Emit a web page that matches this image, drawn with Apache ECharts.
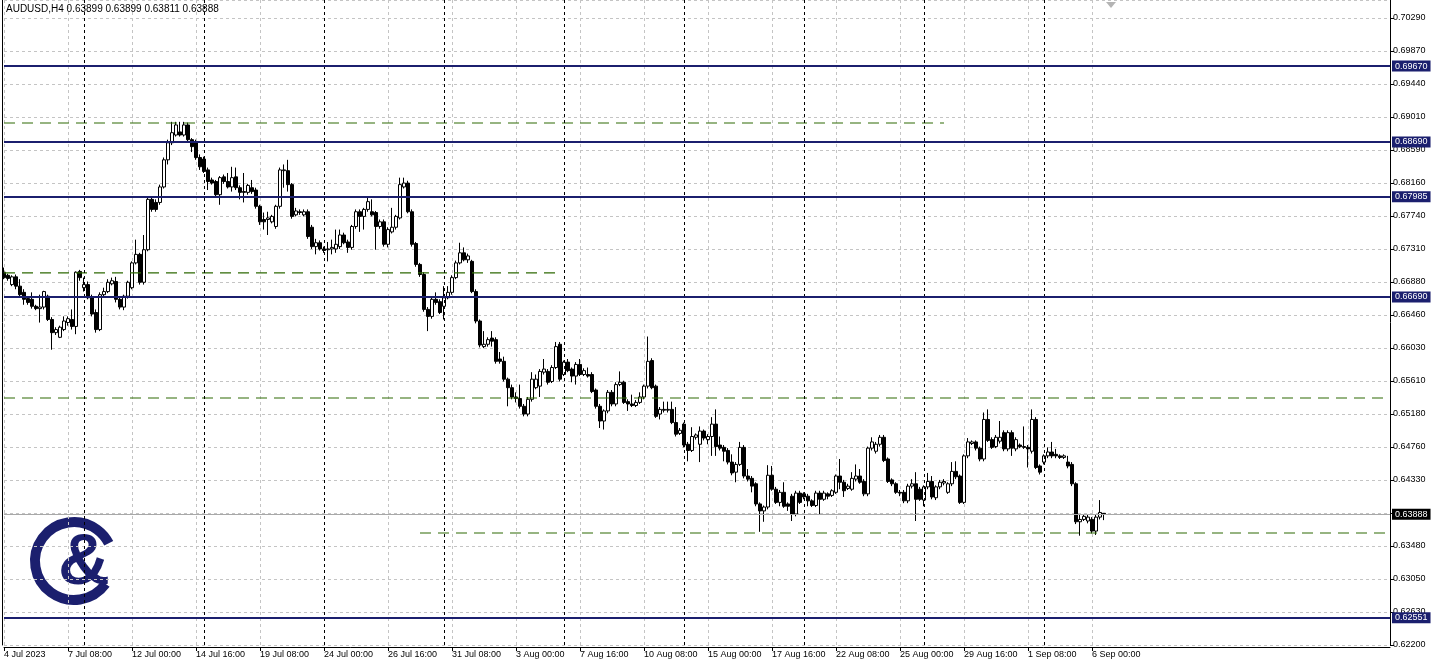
<!DOCTYPE html>
<html><head><meta charset="utf-8">
<script src="https://cdn.jsdelivr.net/npm/echarts@6/dist/echarts.min.js"></script>
<style>html,body{margin:0;padding:0;background:#fff;overflow:hidden}#c{width:1436px;height:667px}</style>
</head><body><div id="c"></div>
<script>
const symbol = 'AUDUSD';
const timeframe = 'H4';

const open = [
0.6701,0.6697,0.6685,0.6695,0.6683,0.6675,0.6667,0.6666,0.6657,0.6654,
0.6656,0.6670,0.6640,0.6623,0.6617,0.6627,0.6636,0.6640,0.6631,0.6702,
0.6681,0.6685,0.6668,0.6649,0.6627,0.6672,0.6676,0.6686,0.6689,0.6666,
0.6656,0.6670,0.6681,0.6713,0.6724,0.6688,0.6730,0.6795,0.6791,0.6791,
0.6811,0.6846,0.6868,0.6878,0.6882,0.6878,0.6891,0.6872,0.6868,0.6849,
0.6847,0.6833,0.6820,0.6818,0.6801,0.6824,0.6818,0.6811,0.6824,0.6810,
0.6805,0.6804,0.6810,0.6807,0.6786,0.6769,0.6769,0.6766,0.6760,0.6786,
0.6832,0.6832,0.6814,0.6775,0.6779,0.6775,0.6779,0.6759,0.6734,0.6739,
0.6731,0.6730,0.6731,0.6731,0.6734,0.6749,0.6740,0.6733,0.6760,0.6779,
0.6773,0.6782,0.6779,0.6778,0.6760,0.6766,0.6737,0.6753,0.6759,0.6771,
0.6811,0.6816,0.6779,0.6738,0.6711,0.6698,0.6653,0.6644,0.6666,0.6663,
0.6657,0.6668,0.6675,0.6694,0.6713,0.6726,0.6717,0.6715,0.6676,0.6638,
0.6605,0.6608,0.6616,0.6614,0.6589,0.6586,0.6563,0.6552,0.6540,0.6538,
0.6528,0.6518,0.6537,0.6552,0.6554,0.6572,0.6573,0.6560,0.6578,0.6608,
0.6569,0.6585,0.6576,0.6567,0.6582,0.6569,0.6569,0.6569,0.6549,0.6528,
0.6509,0.6522,0.6546,0.6531,0.6556,0.6559,0.6534,0.6531,0.6529,0.6533,
0.6540,0.6554,0.6587,0.6554,0.6518,0.6524,0.6523,0.6524,0.6507,0.6493,
0.6505,0.6479,0.6471,0.6488,0.6479,0.6496,0.6485,0.6489,0.6505,0.6478,
0.6475,0.6471,0.6456,0.6443,0.6453,0.6475,0.6438,0.6435,0.6428,0.6402,
0.6393,0.6398,0.6439,0.6421,0.6404,0.6417,0.6402,0.6412,0.6389,0.6416,
0.6415,0.6412,0.6406,0.6400,0.6416,0.6408,0.6415,0.6413,0.6417,0.6438,
0.6430,0.6422,0.6421,0.6434,0.6438,0.6431,0.6415,0.6474,0.6470,0.6479,
0.6488,0.6460,0.6433,0.6428,0.6417,0.6417,0.6406,0.6425,0.6428,0.6421,
0.6407,0.6424,0.6431,0.6410,0.6424,0.6429,0.6417,0.6428,0.6444,0.6438,
0.6404,0.6464,0.6480,0.6482,0.6474,0.6460,0.6511,0.6485,0.6476,0.6483,
0.6494,0.6473,0.6494,0.6473,0.6478,0.6476,0.6475,0.6470,0.6511,0.6451,
0.6456,0.6464,0.6469,0.6466,0.6464,0.6462,0.6456,0.6453,0.6428,0.6379,
0.6382,0.6380,0.6382,0.6367,0.6385,0.63899];

const high = [
0.6707,0.6699,0.6697,0.6698,0.6692,0.6679,0.6670,0.6675,0.6659,0.6672,
0.6677,0.6672,0.6643,0.6630,0.6632,0.6644,0.6644,0.6653,0.6702,0.6704,
0.6694,0.6689,0.6672,0.6653,0.6675,0.6681,0.6692,0.6694,0.6695,0.6668,
0.6672,0.6690,0.6715,0.6743,0.6726,0.6749,0.6797,0.6797,0.6795,0.6814,
0.6849,0.6872,0.6895,0.6895,0.6895,0.6895,0.6894,0.6874,0.6872,0.6853,
0.6850,0.6836,0.6823,0.6820,0.6825,0.6827,0.6829,0.6837,0.6836,0.6813,
0.6829,0.6815,0.6820,0.6810,0.6788,0.6778,0.6779,0.6775,0.6788,0.6836,
0.6840,0.6846,0.6816,0.6784,0.6782,0.6782,0.6782,0.6762,0.6744,0.6742,
0.6734,0.6740,0.6743,0.6756,0.6756,0.6752,0.6743,0.6762,0.6782,0.6782,
0.6784,0.6797,0.6795,0.6780,0.6769,0.6769,0.6759,0.6784,0.6775,0.6823,
0.6823,0.6819,0.6782,0.6740,0.6713,0.6701,0.6656,0.6668,0.6675,0.6666,
0.6683,0.6683,0.6697,0.6716,0.6739,0.6733,0.6725,0.6717,0.6679,0.6640,
0.6625,0.6617,0.6625,0.6617,0.6598,0.6592,0.6565,0.6556,0.6546,0.6556,
0.6531,0.6540,0.6572,0.6569,0.6576,0.6589,0.6576,0.6581,0.6611,0.6611,
0.6587,0.6589,0.6578,0.6585,0.6589,0.6577,0.6578,0.6572,0.6551,0.6531,
0.6524,0.6549,0.6549,0.6559,0.6573,0.6561,0.6537,0.6543,0.6536,0.6546,
0.6556,0.6618,0.6590,0.6556,0.6527,0.6534,0.6534,0.6534,0.6527,0.6500,
0.6507,0.6482,0.6501,0.6493,0.6502,0.6498,0.6492,0.6514,0.6524,0.6489,
0.6478,0.6474,0.6466,0.6456,0.6482,0.6478,0.6447,0.6438,0.6430,0.6404,
0.6400,0.6452,0.6451,0.6424,0.6420,0.6430,0.6404,0.6415,0.6419,0.6419,
0.6417,0.6415,0.6408,0.6419,0.6419,0.6419,0.6417,0.6421,0.6440,0.6460,
0.6433,0.6428,0.6443,0.6453,0.6447,0.6434,0.6476,0.6488,0.6482,0.6491,
0.6491,0.6462,0.6435,0.6430,0.6420,0.6420,0.6428,0.6434,0.6443,0.6424,
0.6426,0.6442,0.6438,0.6426,0.6433,0.6434,0.6430,0.6456,0.6457,0.6440,
0.6466,0.6487,0.6484,0.6484,0.6476,0.6520,0.6524,0.6488,0.6491,0.6509,
0.6497,0.6497,0.6497,0.6488,0.6480,0.6502,0.6478,0.6524,0.6514,0.6453,
0.6466,0.6475,0.6482,0.6473,0.6466,0.6466,0.6464,0.6456,0.6430,0.6389,
0.6389,0.6388,0.6385,0.6388,0.6407,0.63899];

const low = [
0.6692,0.6690,0.6683,0.6679,0.6670,0.6659,0.6659,0.6654,0.6652,0.6636,
0.6653,0.6638,0.6601,0.6620,0.6616,0.6625,0.6632,0.6627,0.6621,0.6690,
0.6676,0.6666,0.6644,0.6623,0.6625,0.6670,0.6674,0.6684,0.6662,0.6653,
0.6652,0.6667,0.6679,0.6711,0.6685,0.6685,0.6728,0.6779,0.6779,0.6788,
0.6809,0.6840,0.6865,0.6876,0.6876,0.6876,0.6869,0.6856,0.6846,0.6833,
0.6829,0.6807,0.6814,0.6798,0.6788,0.6815,0.6809,0.6805,0.6807,0.6795,
0.6791,0.6801,0.6802,0.6783,0.6762,0.6756,0.6749,0.6764,0.6757,0.6783,
0.6810,0.6805,0.6770,0.6773,0.6775,0.6773,0.6744,0.6731,0.6724,0.6729,
0.6726,0.6715,0.6724,0.6726,0.6731,0.6737,0.6726,0.6730,0.6757,0.6753,
0.6756,0.6779,0.6773,0.6730,0.6757,0.6734,0.6733,0.6751,0.6756,0.6769,
0.6809,0.6777,0.6734,0.6708,0.6695,0.6650,0.6625,0.6641,0.6659,0.6647,
0.6640,0.6666,0.6672,0.6692,0.6711,0.6715,0.6713,0.6674,0.6635,0.6604,
0.6603,0.6605,0.6605,0.6583,0.6583,0.6560,0.6528,0.6537,0.6533,0.6525,
0.6515,0.6515,0.6534,0.6550,0.6540,0.6569,0.6556,0.6558,0.6576,0.6560,
0.6567,0.6572,0.6559,0.6556,0.6567,0.6567,0.6565,0.6545,0.6525,0.6500,
0.6498,0.6519,0.6528,0.6528,0.6554,0.6531,0.6522,0.6527,0.6527,0.6531,
0.6537,0.6551,0.6550,0.6513,0.6511,0.6520,0.6520,0.6505,0.6489,0.6491,
0.6475,0.6457,0.6469,0.6485,0.6456,0.6484,0.6479,0.6464,0.6464,0.6471,
0.6457,0.6453,0.6439,0.6430,0.6451,0.6435,0.6431,0.6417,0.6399,0.6366,
0.6379,0.6395,0.6419,0.6402,0.6399,0.6397,0.6393,0.6380,0.6386,0.6402,
0.6408,0.6399,0.6398,0.6398,0.6389,0.6406,0.6408,0.6411,0.6415,0.6421,
0.6411,0.6420,0.6419,0.6431,0.6428,0.6412,0.6412,0.6471,0.6467,0.6476,
0.6456,0.6429,0.6425,0.6415,0.6412,0.6403,0.6403,0.6422,0.6380,0.6406,
0.6399,0.6421,0.6408,0.6407,0.6421,0.6426,0.6415,0.6425,0.6434,0.6402,
0.6402,0.6461,0.6478,0.6471,0.6457,0.6457,0.6482,0.6473,0.6474,0.6480,
0.6470,0.6470,0.6464,0.6470,0.6474,0.6473,0.6449,0.6467,0.6447,0.6440,
0.6453,0.6461,0.6461,0.6461,0.6460,0.6460,0.6448,0.6425,0.6376,0.6361,
0.6380,0.6377,0.6364,0.6362,0.6382,0.63811];

const close = [
0.6694,0.6693,0.6695,0.6683,0.6672,0.6666,0.6662,0.6657,0.6654,0.6656,
0.6676,0.6640,0.6623,0.6627,0.6630,0.6638,0.6641,0.6631,0.6701,0.6694,
0.6685,0.6668,0.6647,0.6627,0.6672,0.6676,0.6688,0.6690,0.6666,0.6656,
0.6670,0.6688,0.6713,0.6724,0.6688,0.6730,0.6795,0.6782,0.6782,0.6811,
0.6846,0.6868,0.6881,0.6891,0.6878,0.6891,0.6872,0.6863,0.6849,0.6837,
0.6831,0.6818,0.6816,0.6801,0.6823,0.6818,0.6811,0.6823,0.6810,0.6804,
0.6804,0.6813,0.6805,0.6786,0.6766,0.6766,0.6771,0.6773,0.6786,0.6833,
0.6833,0.6814,0.6773,0.6780,0.6778,0.6779,0.6747,0.6734,0.6739,0.6731,
0.6729,0.6731,0.6733,0.6737,0.6749,0.6739,0.6733,0.6760,0.6779,0.6773,
0.6782,0.6792,0.6775,0.6760,0.6766,0.6737,0.6756,0.6759,0.6773,0.6814,
0.6816,0.6779,0.6737,0.6711,0.6698,0.6653,0.6644,0.6666,0.6662,0.6649,
0.6668,0.6675,0.6694,0.6713,0.6726,0.6717,0.6722,0.6676,0.6638,0.6607,
0.6608,0.6614,0.6612,0.6586,0.6586,0.6563,0.6552,0.6540,0.6538,0.6528,
0.6518,0.6537,0.6563,0.6563,0.6573,0.6576,0.6559,0.6578,0.6605,0.6563,
0.6585,0.6574,0.6567,0.6582,0.6569,0.6574,0.6567,0.6547,0.6528,0.6509,
0.6522,0.6546,0.6531,0.6556,0.6559,0.6533,0.6531,0.6529,0.6533,0.6540,
0.6554,0.6586,0.6552,0.6515,0.6524,0.6523,0.6524,0.6507,0.6492,0.6497,
0.6478,0.6471,0.6489,0.6491,0.6496,0.6487,0.6489,0.6505,0.6476,0.6474,
0.6470,0.6456,0.6442,0.6453,0.6475,0.6438,0.6434,0.6425,0.6402,0.6393,
0.6398,0.6439,0.6421,0.6404,0.6417,0.6399,0.6399,0.6389,0.6416,0.6404,
0.6411,0.6406,0.6400,0.6416,0.6408,0.6416,0.6412,0.6419,0.6438,0.6430,
0.6419,0.6425,0.6435,0.6438,0.6430,0.6415,0.6474,0.6482,0.6479,0.6488,
0.6458,0.6431,0.6428,0.6417,0.6416,0.6406,0.6425,0.6428,0.6408,0.6408,
0.6424,0.6431,0.6411,0.6424,0.6430,0.6431,0.6428,0.6444,0.6437,0.6404,
0.6464,0.6482,0.6482,0.6474,0.6460,0.6511,0.6484,0.6475,0.6488,0.6488,
0.6473,0.6494,0.6474,0.6485,0.6476,0.6475,0.6473,0.6511,0.6449,0.6443,
0.6464,0.6469,0.6464,0.6464,0.6462,0.6464,0.6451,0.6428,0.6379,0.6382,
0.6386,0.6385,0.6367,0.6385,0.6391,0.63888];

// x-axis tick labels, one every 16 bars starting at bar 0
const xTickLabels = ['4 Jul 2023','7 Jul 08:00','12 Jul 00:00','14 Jul 16:00','19 Jul 08:00','24 Jul 00:00',
  '26 Jul 16:00','31 Jul 08:00','3 Aug 00:00','7 Aug 16:00','10 Aug 08:00','15 Aug 00:00','17 Aug 16:00',
  '22 Aug 08:00','25 Aug 00:00','29 Aug 16:00','1 Sep 08:00','6 Sep 00:00'];
const xLabelEvery = 16;
// price scale tick labels, bottom to top
const yTickLabels = ['0.62200','0.62630','0.63050','0.63480','0.63900','0.64330','0.64760','0.65180','0.65610',
  '0.66030','0.66460','0.66880','0.67310','0.67740','0.68160','0.68590','0.69010','0.69440','0.69870','0.70290'];
const yTop = 0.70522;          // price at the top edge of the window
// weekly period separators (bar index of Monday 00:00)
const weekStarts = [20, 50, 80, 110, 140, 170, 200, 230, 260];
// horizontal support/resistance levels
const levels = [0.69670, 0.68690, 0.67985, 0.66690, 0.62551];
// dashed trend levels: price, first bar, last bar
const dashedPrices = [0.68935, 0.67000, 0.65387, 0.63645];
const dashedFrom   = [0, 0, 0, 104];
const dashedTo     = [235, 138, 346.5, 346.5];
const totalSlots = 346.5;

const NAVY = '#1b1f6e';
const GREEN = '#2f6a05';
const FONT = '"Liberation Sans", Arial, sans-serif';

const n = close.length;
const candles = close.map((c, i) => [i, open[i], c, low[i], high[i]]);
const yMin = Number(yTickLabels[0]);
const yStep = (Number(yTickLabels[yTickLabels.length - 1]) - yMin) / (yTickLabels.length - 1);

const header = symbol + ',' + timeframe + ' ' + [open[n-1], high[n-1], low[n-1], close[n-1]].map(v => v.toFixed(5)).join(' ');

const markData = [];
weekStarts.forEach(w => markData.push({
  xAxis: w, label: {show: false},
  lineStyle: {color: '#000', width: 1, type: [3, 3]}
}));
levels.forEach(p => markData.push({
  yAxis: p,
  lineStyle: {color: NAVY, width: 2, type: 'solid'},
  label: {show: true, position: 'end', distance: 2, formatter: () => p.toFixed(5),
    backgroundColor: NAVY, color: '#fff', fontSize: 9, fontFamily: FONT, padding: [1, 3, 1, 3]}
}));
markData.push({
  yAxis: close[n-1],
  lineStyle: {color: '#a8a8a8', width: 1, type: 'solid'},
  label: {show: true, position: 'end', distance: 2, formatter: () => close[n-1].toFixed(5),
    backgroundColor: '#000', color: '#fff', fontSize: 9, fontFamily: FONT, padding: [1, 3, 1, 3]}
});

const dashedSeries = dashedPrices.map((p, k) => ({
  type: 'line', silent: true, symbol: 'none', animation: false, z: 3,
  data: [[dashedFrom[k], p], [dashedTo[k], p]],
  lineStyle: {color: GREEN, width: 1.2, opacity: 1, type: [11, 7]}
}));

const chart = echarts.init(document.getElementById('c'), null, {renderer: 'canvas'});
chart.setOption({
  animation: false,
  backgroundColor: '#ffffff',
  textStyle: {fontFamily: FONT},
  title: {text: header, left: 6, top: 4, padding: 0,
    textStyle: {fontSize: 10, fontWeight: 'normal', color: '#000', fontFamily: FONT}},
  grid: {left: 4, right: 46, top: 0, bottom: 22, containLabel: false},
  xAxis: [{
    type: 'value', min: 0, max: totalSlots, interval: 8, position: 'bottom', offset: 2,
    axisLine: {show: true, onZero: false, lineStyle: {color: '#000', width: 1}},
    axisTick: {show: true, length: 4, lineStyle: {color: '#000'},
      customValues: xTickLabels.map((_, k) => k * xLabelEvery)},
    axisLabel: {show: true, color: '#000', fontSize: 9, fontFamily: FONT, align: 'left', margin: 3,
      showMinLabel: true, showMaxLabel: true, hideOverlap: false,
      customValues: xTickLabels.map((_, k) => k * xLabelEvery),
      formatter: v => (v % xLabelEvery === 0 && xTickLabels[v / xLabelEvery]) ? xTickLabels[v / xLabelEvery] : ''},
    splitLine: {show: true, lineStyle: {color: '#c4c4c4', width: 1, type: [3, 3]}}
  }],
  yAxis: [{
    type: 'value', position: 'right', min: yMin, max: yTop, interval: yStep,
    axisLine: {show: true, onZero: false, lineStyle: {color: '#000', width: 1}},
    axisTick: {show: true, length: 4, lineStyle: {color: '#000'}},
    axisLabel: {show: true, color: '#000', fontSize: 9, fontFamily: FONT, margin: 3,
      showMaxLabel: false,
      formatter: v => { const k = Math.round((v - yMin) / yStep); return (Math.abs(v - (yMin + k * yStep)) < 1e-7 && yTickLabels[k]) ? yTickLabels[k] : ''; }},
    splitLine: {show: true, lineStyle: {color: '#c4c4c4', width: 1, type: [3, 3]}}
  }, {
    type: 'value', position: 'left', offset: 2, min: yMin, max: yTop,
    axisLine: {show: true, onZero: false, lineStyle: {color: '#000', width: 1}},
    axisTick: {show: false}, axisLabel: {show: false}, splitLine: {show: false}
  }],
  series: [{
    type: 'candlestick',
    xAxisIndex: 0, yAxisIndex: 0,
    data: candles,
    encode: {x: 0, y: [1, 2, 3, 4]},
    barWidth: 3,
    clip: false,
    z: 2,
    itemStyle: {color: '#ffffff', color0: '#000000', borderColor: '#000000', borderColor0: '#000000', borderWidth: 1},
    markLine: {silent: true, symbol: ['none', 'none'], animation: false, precision: 5, z: 5, data: markData}
  }].concat(dashedSeries),
  graphic: [
    {type: 'polygon', shape: {points: [[1106, 2], [1116, 2], [1111, 8]]}, style: {fill: '#b4b4b4'}},
    {type: 'arc', shape: {cx: 74, cy: 561, r: 39, startAngle: Math.PI * 0.2, endAngle: Math.PI * 1.85, clockwise: true},
      style: {stroke: NAVY, lineWidth: 10, fill: null}},
    {type: 'text', x: 58, y: 528, style: {text: '&', fill: NAVY, font: 'bold 72px "Liberation Sans", Arial, sans-serif'}}
  ]
});
</script></body></html>
